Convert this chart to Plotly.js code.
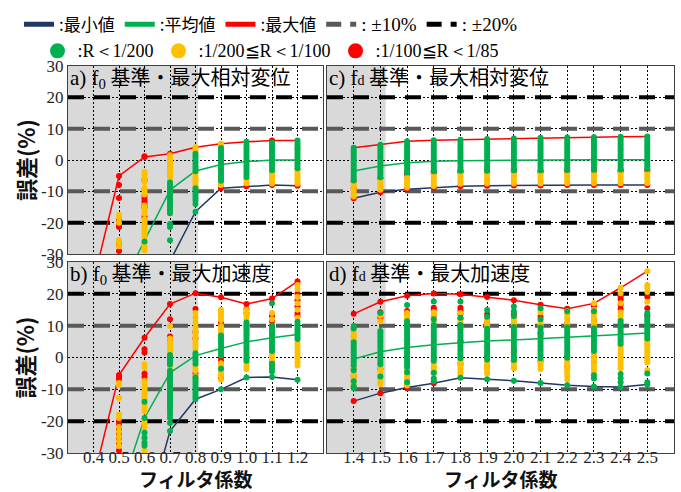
<!DOCTYPE html>
<html>
<head>
<meta charset="utf-8">
<script src="https://cdn.plot.ly/plotly-3.0.1.min.js"></script>
<style>
  html, body { margin: 0; padding: 0; background: #ffffff; }
  #chart { width: 681px; height: 492px; }
</style>
</head>
<body>
<div id="chart"></div>
<script>
// ---- axes / categories ----
const xColsLeft = [0.5, 0.6, 0.7, 0.8, 0.9, 1.0, 1.1, 1.2];
const xLineLeft = [0.4, 0.5, 0.6, 0.7, 0.8, 0.9, 1.0, 1.1, 1.2];
const xColsRight = [1.4, 1.5, 1.6, 1.7, 1.8, 1.9, 2.0, 2.1, 2.2, 2.3, 2.4, 2.5];
const xTickLeft = [0.4, 0.5, 0.6, 0.7, 0.8, 0.9, 1.0, 1.1, 1.2];
const xTickTextLeft = ['0.4', '0.5', '0.6', '0.7', '0.8', '0.9', '1.0', '1.1', '1.2'];
const xTickRight = [1.4, 1.5, 1.6, 1.7, 1.8, 1.9, 2.0, 2.1, 2.2, 2.3, 2.4, 2.5];
const xTickTextRight = ['1.4', '1.5', '1.6', '1.7', '1.8', '1.9', '2.0', '2.1', '2.2', '2.3', '2.4', '2.5'];
const yTickVals = [-30, -20, -10, 0, 10, 20, 30];
const yTickText = ['-30', '-20', '-10', '0', '10', '20', '30'];
const xRangeLeft = [0.3, 1.3];
const xRangeRight = [1.3, 2.6];
const yRange = [-30, 30];
const shadeEndLeft = 0.81;
const shadeEndRight = 1.52;
const levels10 = [10, -10];
const levels20 = [20, -20];
const xTitle = 'フィルタ係数';
const yTitle = '誤差(%)';

// ---- a) f0 基準・最大相対変位 ----
const aMin  = [-90, -75, -48, -32, -16.5, -9.0, -8.4, -8.0, -8.2];
const aMean = [-58, -42, -26, -9.6, -3.5, -1.4, -0.5, 0.0, 0.0];
const aMax  = [-38.7, -5.1, 1.0, 2.0, 4.1, 5.2, 5.8, 6.2, 6.2];
const aRed = [
  [-5.1, -8.0, -12.1, -19.0, -20.3, -21.4, -26.7, -29.0],
  [1.0, 1.2, -6.4, -9.8, -11.5, -12.4, -13.2, -14.2, -15.1, -18.1],
  [2.0, -0.8, -2.5],
  [],
  [-9.0],
  [-8.4],
  [6.2, -8.0],
  [-8.2]
];
const aOrange = [
  [-17.5, -18.5, -20.0, -25.5, -26.2, -27.5],
  [-3.8, -4.5, -5.2, -6.0, -7.0, -9.0, -9.5, -10.3, -11.0, -14.5, -15.5, -16.5, -17.2, -19.0, -19.8, -20.6, -21.4, -22.2, -23.0, -23.8, -24.6, -26.4, -27.2, -28.0, -28.8],
  [1.5, 0.8, 0.0, -0.8, -1.6, -2.4, -3.2, -4.0, -4.8, -5.6, -6.4, -8.5, -9.5, -11.0, -12.5, -14.0, -15.5, -17.0],
  [4.1, 3.4, 2.6, -4.2, -5.0, -5.8, -6.6, -7.4, -8.2, -9.0],
  [5.2, 4.4, -5.5, -6.3, -7.1, -8.0],
  [-5.8, -6.6, -7.4],
  [-3.5, -4.3, -5.1, -5.9, -6.7, -7.5],
  [3.5, -3.0, -3.8, -4.6, -5.4, -6.2, -7.0, -7.6]
];
const aGreen = [
  [],
  [-26.0],
  [-7.2, -8.0, -8.8, -9.6, -10.4, -11.2, -12.0, -12.8, -13.6, -14.4, -15.2, -16.0, -17.0, -20.4, -21.4, -25.6],
  [2.0, 1.2, 0.4, -0.4, -1.2, -2.0, -2.8, -3.6, -9.0, -9.8, -10.6, -11.4, -12.2, -13.0, -14.0, -16.5],
  [3.8, 3.0, 2.2, 1.4, 0.6, -0.2, -1.0, -1.8, -2.6, -3.4, -4.2, -5.0, -5.8, -6.6],
  [5.8, 5.0, 4.2, 3.4, 2.6, 1.8, 1.0, 0.2, -0.6, -1.4, -2.2, -3.0, -3.8, -4.6, -5.4],
  [5.5, 4.7, 3.9, 3.1, 2.3, 1.5, 0.7, -0.1, -0.9, -1.7, -2.5, -3.3],
  [6.2, 5.4, 4.6, 3.8, 3.0, 2.2, 1.4, 0.6, -0.2, -1.0, -1.8, -2.6]
];

// ---- b) f0 基準・最大加速度 ----
const bMin  = [-110, -80, -52, -23.1, -13.1, -10.0, -6.3, -6.1, -7.0];
const bMean = [-68, -43.4, -19.0, -4.8, 0.6, 2.8, 4.9, 6.2, 7.2];
const bMax  = [-38.2, -5.5, 6.2, 16.8, 20.2, 18.9, 16.8, 18.5, 23.9];
const bRed = [
  [-5.5, -6.2, -6.8, -20.0, -21.0, -22.5, -24.0, -25.5, -27.0, -29.2],
  [6.2, 2.6, 1.6, -5.1, -6.1],
  [16.8, 12.0, 6.6, 5.5, -5.1],
  [20.2, 15.2, 8.0, 6.0, -5.0],
  [18.9, 11.0, 10.0, 0.0, -1.0, -6.5],
  [16.8, 15.2, 14.0],
  [18.5, 13.0, 11.5, 10.0, 9.3, 2.0, -1.5],
  [23.9, 20.0, 18.0, 16.0, 14.0, 13.0]
];
const bOrange = [
  [-8.0, -8.7, -12.7, -17.9, -19.0, -21.8, -23.3, -24.8, -26.3, -27.8],
  [-2.1, -3.2, -7.3, -8.1, -8.9, -9.7, -10.5, -11.3, -12.1, -12.9, -14.7, -15.6, -17.0, -20.0, -21.0, -22.0, -24.6, -26.0, -29.3],
  [9.9, 6.0, 4.9, 4.2, 3.4, 2.6, 1.8, -2.5, -3.3, -4.1, -7.9, -8.7, -10.0, -12.0],
  [14.0, 12.5, 11.0, 9.5, 8.5, 7.5, 6.5, 5.5, 4.5, 3.5, 2.5, -2.5, -3.3, -4.1, -5.8, -6.6],
  [15.0, 14.2, 13.4, 12.6, 11.8, 9.9, 9.0, 8.0, 7.0, -1.8, -2.6, -3.4, -4.2, -5.0, -5.8, -7.0],
  [15.0, 14.0, 13.0, 12.0, 11.0, 10.0, 9.0, 8.0, 7.0, -0.5, -1.3, -2.1, -2.9, -3.7],
  [14.0, 12.0, 8.0, 7.0, 6.0, 1.0, 0.0, -1.0, -2.5],
  [22.8, 21.5, 19.0, 17.0, 15.0, 12.5, 4.5, 3.7, 2.5, 1.5, 0.5, -0.5, -1.5, -2.5]
];
const bGreen = [
  [],
  [-13.9, -19.0, -23.6, -25.2, -26.8, -27.7],
  [0.8, 0.0, -0.8, -1.5, -2.2, -4.2, -5.0, -5.8, -6.6, -7.4, -8.2, -9.0, -9.8, -10.6, -11.4, -12.2, -13.0, -13.8, -14.6, -15.4, -16.2, -17.0, -18.0, -19.0, -20.6, -23.1],
  [1.3, 0.6, -0.2, -1.0, -2.0, -6.2, -7.0, -7.8, -8.6, -9.4, -10.2, -11.0, -11.8, -12.4, -13.1],
  [6.9, 6.1, 5.3, 4.5, 3.7, 2.9, 2.1, 1.3, 0.6, -3.5, -10.0],
  [11.0, 10.2, 9.4, 8.6, 7.8, 7.0, 6.2, 5.4, 4.6, 3.8, 3.0, 2.2, 1.4, 0.6, -0.2, -1.0, -6.3],
  [17.0, 10.0, 9.2, 8.4, 7.6, 6.8, 6.0, 5.2, 4.4, 3.6, 2.8, 2.0, -2.0, -2.8, -3.6, -4.4, -6.1],
  [11.2, 10.4, 9.6, 8.8, 8.0, 7.2, 6.4, 5.8, -7.0]
];

// ---- c) fd 基準・最大相対変位 ----
const cMin  = [-12.2, -10.3, -9.3, -8.8, -8.4, -8.2, -8.1, -8.1, -8.0, -8.0, -8.0, -8.0];
const cMean = [-3.5, -1.9, -0.9, -0.4, -0.2, -0.1, 0.0, 0.1, 0.1, 0.1, 0.1, 0.1];
const cMax  = [3.9, 4.9, 6.0, 6.3, 6.5, 6.7, 6.9, 7.1, 7.2, 7.3, 7.4, 7.5];
const cRed = [
  [-6.8, -9.0, -12.2],
  [-5.8, -10.3],
  [-4.4, -5.0, -9.3],
  [-3.8, -4.2, -8.8],
  [-3.6, -4.0, -8.4],
  [-3.6, -3.9, -8.2],
  [-3.5, -3.9, -8.1],
  [-3.5, -3.9, -8.1],
  [-3.4, -3.8, -8.0],
  [-3.4, -3.8, -8.0],
  [-3.3, -3.7, -8.0],
  [-3.2, -3.6, -8.0]
];
const cOrange = [
  [-7.0, -7.8, -8.6, -9.4, -10.2, -11.0, -11.6],
  [-6.3, -7.1, -7.9, -8.7, -9.5],
  [-5.6, -6.4, -7.2, -8.0, -8.8],
  [-4.6, -5.4, -6.2, -7.0, -7.8, -8.3],
  [-4.4, -5.2, -6.0, -6.8, -7.6],
  [-4.3, -5.1, -5.9, -6.7, -7.5],
  [-4.3, -5.1, -5.9, -6.7, -7.5],
  [-4.3, -5.1, -5.9, -6.7, -7.5],
  [-4.2, -5.0, -5.8, -6.6, -7.4],
  [-4.2, -5.0, -5.8, -6.6, -7.4],
  [-4.1, -4.9, -5.7, -6.5, -7.4],
  [-4.0, -4.8, -5.6, -6.4, -7.4]
];
const cGreen = [
  [3.9, 3.1, 2.3, 1.5, 0.7, -0.1, -0.9, -1.7, -2.5, -3.3, -4.1, -4.9, -5.7, -6.5],
  [4.9, 4.1, 3.3, 2.5, 1.7, 0.9, 0.1, -0.7, -1.5, -2.3, -3.1, -3.9, -4.7, -5.5],
  [6.0, 5.2, 4.4, 3.6, 2.8, 2.0, 1.2, 0.4, -0.4, -1.2, -2.0, -2.8, -3.6, -4.0],
  [6.3, 5.5, 4.7, 3.9, 3.1, 2.3, 1.5, 0.7, -0.1, -0.9, -1.7, -2.5, -3.3, -3.6],
  [6.5, 5.7, 4.9, 4.1, 3.3, 2.5, 1.7, 0.9, 0.1, -0.7, -1.5, -2.3, -3.1, -3.4],
  [6.7, 5.9, 5.1, 4.3, 3.5, 2.7, 1.9, 1.1, 0.3, -0.5, -1.3, -2.1, -2.9, -3.4],
  [6.9, 6.1, 5.3, 4.5, 3.7, 2.9, 2.1, 1.3, 0.5, -0.3, -1.1, -1.9, -2.7, -3.3],
  [7.1, 6.3, 5.5, 4.7, 3.9, 3.1, 2.3, 1.5, 0.7, -0.1, -0.9, -1.7, -2.5, -3.3],
  [7.2, 6.4, 5.6, 4.8, 4.0, 3.2, 2.4, 1.6, 0.8, 0.0, -0.8, -1.6, -2.4, -3.2],
  [7.3, 6.5, 5.7, 4.9, 4.1, 3.3, 2.5, 1.7, 0.9, 0.1, -0.7, -1.5, -2.3, -3.1],
  [7.4, 6.6, 5.8, 5.0, 4.2, 3.4, 2.6, 1.8, 1.0, 0.2, -0.6, -1.4, -2.2, -3.0],
  [7.5, 6.7, 5.9, 5.1, 4.3, 3.5, 2.7, 1.9, 1.1, 0.3, -0.5, -1.3, -2.1, -2.9]
];

// ---- d) fd 基準・最大加速度 ----
const dMin  = [-13.7, -11.2, -9.4, -8.1, -6.4, -6.8, -7.3, -8.0, -8.7, -9.1, -9.3, -8.5];
const dMean = [-0.5, 1.8, 3.1, 4.0, 4.6, 5.2, 5.5, 5.9, 6.2, 6.7, 7.2, 7.7];
const dMax  = [13.7, 17.5, 19.4, 20.1, 19.9, 19.0, 18.0, 16.6, 15.3, 17.0, 21.9, 27.1];
const dRed = [
  [13.7, -3.3, -5.8, -13.7],
  [17.5, 14.2, 12.6, -3.5, -11.2],
  [19.4, 14.6, 13.6, -9.4],
  [20.1, 15.6, 15.0, 13.0, -8.1],
  [19.9, 15.6, 14.8, 13.6, 12.2, 5.0, -2.0],
  [19.0, 13.6, 11.0, 0.0, -3.0],
  [18.0, 13.6, 2.0, -1.0],
  [16.6, 12.8, 7.6, -1.2],
  [15.3, 10.6, 0.2, -3.0],
  [16.2, 11.6, -1.0],
  [19.1, 18.2, 16.6, 15.2],
  [19.1, 15.5, 13.2]
];
const dOrange = [
  [8.3, 7.5, 6.7, 5.9, 5.1, -3.2, -4.8, -5.6, -6.4, -7.2, -8.2, -8.8],
  [13.2, 11.4, 7.9, -2.8, -3.6, -4.4, -5.2, -6.0, -6.8, -7.6, -8.4],
  [14.0, 13.0, 12.2, 10.2, -3.8, -5.4, -6.2, -7.0, -8.2, -8.8],
  [14.2, 13.4, 12.6, 11.2, 10.6, -1.8, -2.6, -3.4, -4.2, -5.0],
  [14.0, 11.6, 10.8, 9.8, 9.0, -0.6, -1.4, -2.2, -3.0, -3.8, -4.6, -5.4],
  [12.0, 11.2, 10.4, 9.6, -1.2, -2.0, -2.8, -3.6, -4.4, -5.0],
  [12.4, 11.6, 10.8, 10.2, -1.2, -2.0, -2.8, -3.4],
  [15.0, 14.2, 11.2, 10.4, 9.8, -1.0, -1.8, -2.6, -3.6],
  [14.6, 13.8, 13.0, 12.2, 11.0, 10.2, -0.8, -1.6, -2.4, -3.2, -4.0, -4.8, -5.8, -7.0],
  [17.0, 15.0, 14.0, 13.0, 12.0, 11.0, 10.0, 1.2, 0.4, -0.4, -1.2, -2.0, -2.8, -3.6, -4.6],
  [21.9, 20.2, 17.0, 14.2, 13.0, 12.0, 4.0, 3.2, 2.4, 1.6, 0.8, 0.0, -0.8, -1.6, -2.4, -3.4],
  [27.1, 22.7, 21.8, 20.6, 17.5, 5.6, 4.8, 4.0, 3.2, 2.4, 1.6, 0.8, 0.0, -0.8, -1.6, -4.0]
];
const dGreen = [
  [9.9, 9.1, 4.8, 4.0, 3.2, 2.4, 1.6, 0.8, 0.0, -0.8, -1.6, -2.4, -4.0, -7.5, -9.0, -9.7],
  [14.0, 8.3, 7.5, 6.7, 5.9, 5.1, 4.3, 3.5, 2.7, 1.9, 1.1, 0.3, -0.5, -1.3, -2.1, -6.0],
  [16.5, 11.4, 10.6, 9.8, 9.0, 8.2, 7.4, 6.6, 5.8, 5.0, 4.2, 3.4, 2.6, 1.8, 1.0, 0.2, -0.6, -1.4, -2.2, -3.0, -4.6, -7.8],
  [17.6, 12.0, 10.2, 9.4, 8.6, 7.8, 7.0, 6.2, 5.4, 4.6, 3.8, 3.0, 2.2, 1.4, 0.6, -0.2, -1.0, -4.8, -6.6, -7.5],
  [17.6, 12.5, 10.2, 9.4, 8.6, 7.8, 7.0, 6.2, 5.4, 4.6, 3.8, 3.0, 2.2, 1.4, 0.6, -0.2, -6.4],
  [14.9, 12.8, 9.0, 8.2, 7.4, 6.6, 5.8, 5.0, 4.2, 3.4, 2.6, 1.8, 1.0, 0.2, -0.6, -6.8],
  [16.0, 14.5, 13.0, 9.6, 8.8, 8.0, 7.2, 6.4, 5.6, 4.8, 4.0, 3.2, 2.4, 1.6, 0.8, 0.0, -0.8, -7.3],
  [15.5, 12.0, 9.4, 8.6, 7.8, 7.0, 6.2, 5.4, 4.6, 3.8, 3.0, 2.2, 1.4, 0.6, -0.2, -8.0],
  [14.5, 9.5, 8.7, 7.9, 7.1, 6.3, 5.5, 4.7, 3.9, 3.1, 2.3, 1.5, 0.7, -0.1, -8.7],
  [14.5, 9.2, 8.4, 7.6, 6.8, 6.0, 5.2, 4.4, 3.6, 2.8, 2.0, -5.6, -6.6, -9.1],
  [11.5, 10.7, 9.9, 9.1, 8.3, 7.5, 6.7, 5.9, 5.1, 4.3, -5.2, -6.5, -7.8, -9.3],
  [14.0, 13.2, 12.4, 11.6, 10.8, 10.0, 9.2, 8.4, 7.6, 6.8, 6.0, -5.0, -7.8, -8.5]
];

// ---- styling ----
const COLOR_MIN = '#1F3864';
const COLOR_MEAN = '#00B050';
const COLOR_MAX = '#FF0000';
const DOT_GREEN = '#00B050';
const DOT_ORANGE = '#FFC000';
const DOT_RED = '#FF0000';
const COLOR_10 = '#595959';
const COLOR_20 = '#000000';
const FONT_JP = '"Noto Sans CJK JP", "Noto Sans", sans-serif';
const FONT_SERIF = '"Liberation Serif", "DejaVu Serif", serif';
const SERIF_SPAN = "font-family:'Liberation Serif',serif";

const panels = [
  { xa: 'x',  ya: 'y',  xLine: xLineLeft,  xCols: xColsLeft,  min: aMin, mean: aMean, max: aMax,
    red: aRed, orange: aOrange, green: aGreen, xr: xRangeLeft, shade: shadeEndLeft, left: true, bottom: false,
    title: '<span style="' + SERIF_SPAN + ';font-size:21px">a) f<sub>0</sub></span> 基準・最大相対変位' },
  { xa: 'x2', ya: 'y2', xLine: xColsRight, xCols: xColsRight, min: cMin, mean: cMean, max: cMax,
    red: cRed, orange: cOrange, green: cGreen, xr: xRangeRight, shade: shadeEndRight, left: false, bottom: false,
    title: '<span style="' + SERIF_SPAN + ';font-size:21px">c) f<span style="font-size:14px">d</span></span> 基準・最大相対変位' },
  { xa: 'x3', ya: 'y3', xLine: xLineLeft,  xCols: xColsLeft,  min: bMin, mean: bMean, max: bMax,
    red: bRed, orange: bOrange, green: bGreen, xr: xRangeLeft, shade: shadeEndLeft, left: true, bottom: true,
    title: '<span style="' + SERIF_SPAN + ';font-size:21px">b) f<sub>0</sub></span> 基準・最大加速度' },
  { xa: 'x4', ya: 'y4', xLine: xColsRight, xCols: xColsRight, min: dMin, mean: dMean, max: dMax,
    red: dRed, orange: dOrange, green: dGreen, xr: xRangeRight, shade: shadeEndRight, left: false, bottom: true,
    title: '<span style="' + SERIF_SPAN + ';font-size:21px">d) f<span style="font-size:14px">d</span></span> 基準・最大加速度' }
];

// spread column lists into flat x/y arrays
function flatten(xs, cols) {
  const x = [], y = [];
  cols.forEach((col, i) => col.forEach(v => { x.push(xs[i]); y.push(v); }));
  return { x, y };
}

// horizontal reference levels spanning the whole x range
function levelLine(xr, levels) {
  const x = [], y = [];
  levels.forEach((v, i) => {
    if (i) { x.push(null); y.push(null); }
    x.push(xr[0], xr[1]); y.push(v, v);
  });
  return { x, y };
}

const traces = [];
const shapes = [];
const annotations = [];
const xTitleFont = { family: FONT_JP, size: 19, color: '#111', weight: 700 };
const yTitleFont = { family: FONT_JP, size: 22, color: '#111', weight: 700 };

panels.forEach(p => {
  [[levels10, COLOR_10], [levels20, COLOR_20]].forEach(([levels, color]) => {
    const l = levelLine(p.xr, levels);
    traces.push({
      x: l.x, y: l.y, xaxis: p.xa, yaxis: p.ya, mode: 'lines',
      line: { color: color, width: 4, dash: '16px,10px' }, showlegend: false, hoverinfo: 'skip'
    });
  });
  [[p.min, COLOR_MIN], [p.mean, COLOR_MEAN], [p.max, COLOR_MAX]].forEach(([vals, color]) => {
    traces.push({
      x: p.xLine, y: vals, xaxis: p.xa, yaxis: p.ya, mode: 'lines',
      line: { color: color, width: 1.5 }, showlegend: false, hoverinfo: 'skip'
    });
  });
  [[p.red, DOT_RED], [p.orange, DOT_ORANGE], [p.green, DOT_GREEN]].forEach(([cols, color]) => {
    const f = flatten(p.xCols, cols);
    traces.push({
      x: f.x, y: f.y, xaxis: p.xa, yaxis: p.ya, mode: 'markers',
      marker: { color: color, size: 6, line: { width: 0 } }, showlegend: false, hoverinfo: 'skip'
    });
  });

  // shaded low-coefficient region
  shapes.push({
    type: 'rect', xref: p.xa, yref: p.ya + ' domain', x0: p.xr[0], x1: p.shade, y0: 0, y1: 1,
    fillcolor: '#D9D9D9', line: { width: 0 }, layer: 'below'
  });

  // panel caption
  annotations.push({
    xref: p.xa + ' domain', yref: p.ya + ' domain', x: 0, y: 1, xanchor: 'left', yanchor: 'top',
    yshift: 6, text: p.title, showarrow: false, font: { family: FONT_JP, size: 20, color: '#000' }
  });
  // axis titles
  if (p.left) {
    annotations.push({
      xref: 'paper', yref: p.ya + ' domain', x: -0.071, y: 0.5, xanchor: 'center', yanchor: 'middle',
      textangle: -90, text: yTitle, showarrow: false, font: yTitleFont
    });
  }
  if (p.bottom) {
    annotations.push({
      xref: p.xa + ' domain', yref: 'paper', x: 0.5, y: -0.0665, xanchor: 'center', yanchor: 'middle',
      borderpad: 0, text: xTitle, showarrow: false, font: xTitleFont
    });
  }
});

// tick-label carriers for the bottom row (labels sit tight under the frame)
traces.push({ x: [null], y: [null], xaxis: 'x5', yaxis: 'y3', showlegend: false, hoverinfo: 'skip' });
traces.push({ x: [null], y: [null], xaxis: 'x6', yaxis: 'y4', showlegend: false, hoverinfo: 'skip' });

// legend-only entries
const legendLines = [
  { name: ':最小値', color: COLOR_MIN, dash: 'solid' },
  { name: ':平均値', color: COLOR_MEAN, dash: 'solid' },
  { name: ':最大値', color: COLOR_MAX, dash: 'solid' },
  { name: '<span style="' + SERIF_SPAN + ';font-size:19px">: ±10%</span>', color: COLOR_10, dash: '15px,9px' },
  { name: '<span style="' + SERIF_SPAN + ';font-size:19px">: ±20%</span>', color: COLOR_20, dash: '15px,9px' }
];
legendLines.forEach(e => traces.push({
  x: [null], y: [null], xaxis: 'x', yaxis: 'y', mode: 'lines', name: e.name,
  line: { color: e.color, width: 5, dash: e.dash }, legend: 'legend', hoverinfo: 'skip'
}));
const legendDots = [
  { name: '<span style="' + SERIF_SPAN + ';font-size:18px">:R＜1/200</span>', color: DOT_GREEN },
  { name: '<span style="' + SERIF_SPAN + ';font-size:18px">:1/200≦R＜1/100</span>', color: DOT_ORANGE },
  { name: '<span style="' + SERIF_SPAN + ';font-size:18px">:1/100≦R＜1/85</span>', color: DOT_RED }
];
legendDots.forEach(e => traces.push({
  x: [null], y: [null], xaxis: 'x', yaxis: 'y', mode: 'markers', name: e.name,
  marker: { color: e.color, size: 15 }, legend: 'legend2', hoverinfo: 'skip'
}));

const tickFont = { family: FONT_SERIF, size: 17, color: '#262626' };

function axisBase() {
  return {
    showgrid: true, gridcolor: '#000000', gridwidth: 1, griddash: '2px,2px',
    showline: true, mirror: true, linecolor: '#404040', linewidth: 1,
    zeroline: false, ticks: '', tickfont: tickFont, fixedrange: true
  };
}
function xAxis(domain, range, vals, anchor) {
  return Object.assign(axisBase(), {
    domain: domain, range: range, tickvals: vals, anchor: anchor, showticklabels: false
  });
}
function xLabelAxis(base, range, vals, text) {
  return {
    overlaying: base, anchor: 'free', position: 0.02, range: range,
    tickvals: vals, ticktext: text, showgrid: false, showline: false, zeroline: false,
    ticks: '', tickfont: tickFont, fixedrange: true
  };
}
function yAxis(domain, anchor, labels) {
  return Object.assign(axisBase(), {
    domain: domain, range: yRange, tickvals: yTickVals, ticktext: yTickText, anchor: anchor,
    showticklabels: labels
  });
}

const domLeft = [0, 0.4208];
const domRight = [0.4274, 1];
const domTop = [0.5141, 1];
const domBottom = [0, 0.4936];

const layout = {
  width: 681, height: 492, autosize: false,
  margin: { l: 68, r: 7, t: 62, b: 39 },
  paper_bgcolor: '#ffffff', plot_bgcolor: '#ffffff',
  font: { family: FONT_JP, color: '#000' },
  xaxis:  xAxis(domLeft,  xRangeLeft,  xTickLeft,  'y'),
  yaxis:  yAxis(domTop, 'x', true),
  xaxis2: xAxis(domRight, xRangeRight, xTickRight, 'y2'),
  yaxis2: yAxis(domTop, 'x2', false),
  xaxis3: xAxis(domLeft,  xRangeLeft,  xTickLeft,  'y3'),
  yaxis3: yAxis(domBottom, 'x3', true),
  xaxis4: xAxis(domRight, xRangeRight, xTickRight, 'y4'),
  yaxis4: yAxis(domBottom, 'x4', false),
  xaxis5: xLabelAxis('x3', xRangeLeft, xTickLeft, xTickTextLeft),
  xaxis6: xLabelAxis('x4', xRangeRight, xTickRight, xTickTextRight),
  shapes: shapes,
  annotations: annotations,
  showlegend: true,
  legend: {
    orientation: 'h', x: 0.335, xanchor: 'center', y: 1.107, yanchor: 'middle',
    font: { family: FONT_JP, size: 17, color: '#000' }, bgcolor: 'rgba(0,0,0,0)',
    itemwidth: 30, itemclick: false, itemdoubleclick: false
  },
  legend2: {
    orientation: 'h', x: 0.335, xanchor: 'center', y: 1.038, yanchor: 'middle',
    font: { family: FONT_JP, size: 17, color: '#000' }, bgcolor: 'rgba(0,0,0,0)',
    itemwidth: 30, itemclick: false, itemdoubleclick: false
  }
};

Plotly.newPlot('chart', traces, layout, { displayModeBar: false, staticPlot: true });
</script>
</body>
</html>
